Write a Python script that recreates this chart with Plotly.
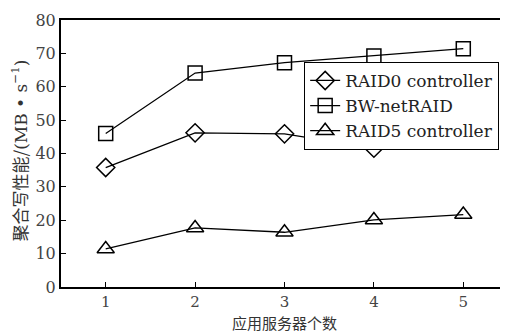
import plotly.graph_objects as go

servers = [1, 2, 3, 4, 5]
raid0 = [35.8, 46.2, 45.9, 41.6, 44.1]
bwnet = [46.0, 64.1, 67.2, 69.2, 71.4]
raid5 = [11.4, 17.7, 16.4, 20.1, 21.7]
series_names = ["RAID0 controller", "BW-netRAID", "RAID5 controller"]
symbols = ["diamond-open", "square-open", "triangle-up-open"]
x_title = "应用服务器个数"
y_title = "聚合写性能/<span style='font-family:DejaVu Serif;font-size:17px'>(MB • s<sup>−1</sup>)</span>"

fig = go.Figure()
for name, vals, sym, sz in zip(series_names, [raid0, bwnet, raid5], symbols, [14, 14, 15]):
    fig.add_trace(go.Scatter(
        x=servers, y=vals, name=name, mode="lines+markers",
        line=dict(color="black", width=1.3),
        marker=dict(symbol=sym, size=sz, color="black", line=dict(width=1.5, color="black")),
    ))

serif = "DejaVu Serif"
cjk = "Noto Sans CJK SC"
fig.update_layout(
    width=500, height=324,
    margin=dict(l=53, r=0, t=12, b=45, autoexpand=False),
    paper_bgcolor="white", plot_bgcolor="white",
    showlegend=True,
    legend=dict(x=0.544, y=0.843, xanchor="left", yanchor="top",
                bordercolor="black", borderwidth=1, bgcolor="white",
                font=dict(family=serif, size=17, color="#222"),
                tracegroupgap=0, itemwidth=30),
    font=dict(family=serif, color="black"),
)
fig.add_annotation(text=x_title, xref="paper", yref="paper", x=0.5, y=0,
                   xanchor="center", yanchor="middle", yshift=-35, showarrow=False,
                   font=dict(family=cjk, size=15, color="#333"))
fig.add_annotation(text=y_title, xref="paper", yref="paper", x=0, y=0.5,
                   xanchor="center", yanchor="middle", xshift=-42, yshift=3,
                   textangle=-90, showarrow=False,
                   font=dict(family=cjk, size=17, color="#333"))
fig.update_xaxes(
    range=[0.5, 5.5], tickvals=servers, ticks="inside", ticklen=5,
    tickcolor="black", showline=True, linecolor="black", linewidth=2,
    mirror=True, showgrid=False, zeroline=False, automargin=False,
    tickfont=dict(family=serif, size=15, color="#444"),
)
fig.update_yaxes(
    range=[0, 80], tickvals=[0, 10, 20, 30, 40, 50, 60, 70, 80], ticks="inside", ticklen=5,
    tickcolor="black", showline=True, linecolor="black", linewidth=2,
    showgrid=False, zeroline=False, automargin=False,
    tickfont=dict(family=serif, size=16, color="#444"),
)
fig.write_html("out.html")
